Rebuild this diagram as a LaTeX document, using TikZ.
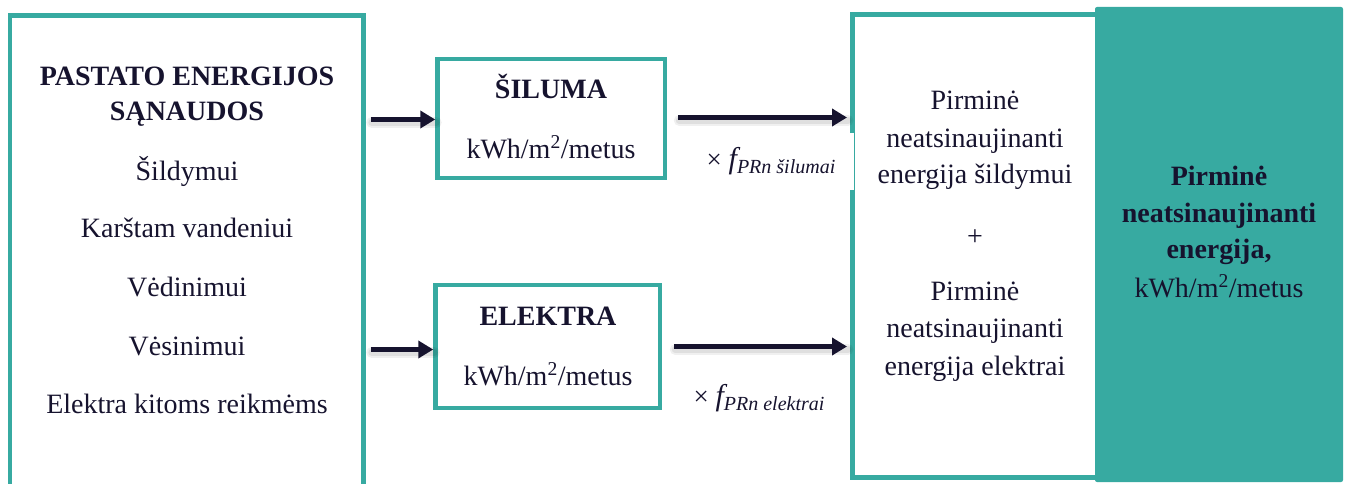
\documentclass[tikz,border=0pt]{standalone}
\usepackage{fontspec}
\setmainfont{Liberation Serif}
\usetikzlibrary{arrows.meta,calc}
\definecolor{teal1}{HTML}{37AAA1}
\definecolor{navy}{HTML}{16132E}
\begin{document}
\begin{tikzpicture}[x=1pt,y=-1pt,
  box/.style={draw=teal1,line width=4.5pt,inner sep=0pt},
  txt/.style={text=navy,font=\fontsize{28}{37}\selectfont,anchor=base,inner sep=0pt},
  btxt/.style={text=navy,font=\fontsize{28}{37}\selectfont\bfseries,anchor=base,inner sep=0pt},
  flow/.style={draw=navy,line width=5pt,-{Triangle[length=15pt,width=17pt]},
    preaction={draw=black,opacity=.06,line width=11pt,-,line cap=round,transform canvas={xshift=1pt,yshift=-3pt}},
    preaction={draw=black,opacity=.07,line width=7pt,-,line cap=round,transform canvas={xshift=1pt,yshift=-3pt}}},
  lbl/.style={fill=white,inner sep=0pt,text=navy}]
\useasboundingbox (0,0) rectangle (1349,484);
\clip (0,0) rectangle (1349,484);
% boxes
\node[box,minimum width=353.5pt,minimum height=504.5pt] (src) at (186.75,267.75) {};
\node[box,minimum width=227.5pt,minimum height=119pt] (heat) at (551.25,118.5) {};
\node[box,minimum width=224.5pt,minimum height=123pt] (elec) at (547.75,346.5) {};
\node[box,line width=5pt,minimum width=244.5pt,minimum height=463pt] (prim) at (974.75,246) {};
\node[fill=teal1,rounded corners=2pt,minimum width=248pt,minimum height=475pt,inner sep=0pt] (total) at (1219,244.5) {};
% left texts
\node[btxt] (t1) at (187,86) {PASTATO ENERGIJOS};
\node[btxt] (t2) at (187,121) {SĄNAUDOS};
\node[txt] (t3) at (187,180) {Šildymui};
\node[txt] (t4) at (187,237) {Karštam vandeniui};
\node[txt] (t5) at (187,296) {Vėdinimui};
\node[txt] (t6) at (187,355) {Vėsinimui};
\node[txt] (t7) at (187,413) {Elektra kitoms reikmėms};
% middle boxes texts
\node[btxt] (h1) at (551,99) {ŠILUMA};
\node[txt] (h2) at (551,158) {kWh/m\textsuperscript{2}/metus};
\node[btxt] (e1) at (548,325) {ELEKTRA};
\node[txt] (e2) at (548,385) {kWh/m\textsuperscript{2}/metus};
% primary texts
\node[txt] (p1) at (975,110) {Pirminė};
\node[txt] (p2) at (975,147) {neatsinaujinanti};
\node[txt] (p3) at (975,183) {energija šildymui};
\node[txt] (p4) at (975,245) {+};
\node[txt] (p5) at (975,300) {Pirminė};
\node[txt] (p6) at (975,337) {neatsinaujinanti};
\node[txt] (p7) at (975,375) {energija elektrai};
% total texts
\node[btxt] (s1) at (1219,185) {Pirminė};
\node[btxt] (s2) at (1219,222) {neatsinaujinanti};
\node[btxt] (s3) at (1219,258) {energija,};
\node[txt] (s4) at (1219,297) {kWh/m\textsuperscript{2}/metus};
% arrows
\draw[flow] ($(src.east |- heat.west)+(5,1)$) -- ($(heat.west)+(0,1)$);
\draw[flow] ($(src.east |- elec.west)+(5,3)$) -- ($(elec.west)+(0,3)$);
\draw[flow] ($(heat.east)+(11,-1)$) -- ($(prim.west |- heat.east)+(-3,-1)$);
\draw[flow] ($(elec.east)+(12,0)$) -- ($(prim.west |- elec.east)+(-3,0)$);
% factor labels
\node[lbl,minimum width=166pt,minimum height=57pt] (fh) at (771,161.5)
  {{\fontsize{27}{27}\selectfont×\ }{\fontsize{30}{30}\selectfont\itshape f}\raisebox{-5pt}{\fontsize{20}{20}\selectfont\itshape PRn šilumai}};
\node[lbl] (fe) at (759,398)
  {{\fontsize{27}{27}\selectfont×\ }{\fontsize{30}{30}\selectfont\itshape f}\raisebox{-5pt}{\fontsize{20}{20}\selectfont\itshape PRn elektrai}};
\end{tikzpicture}
\end{document}
